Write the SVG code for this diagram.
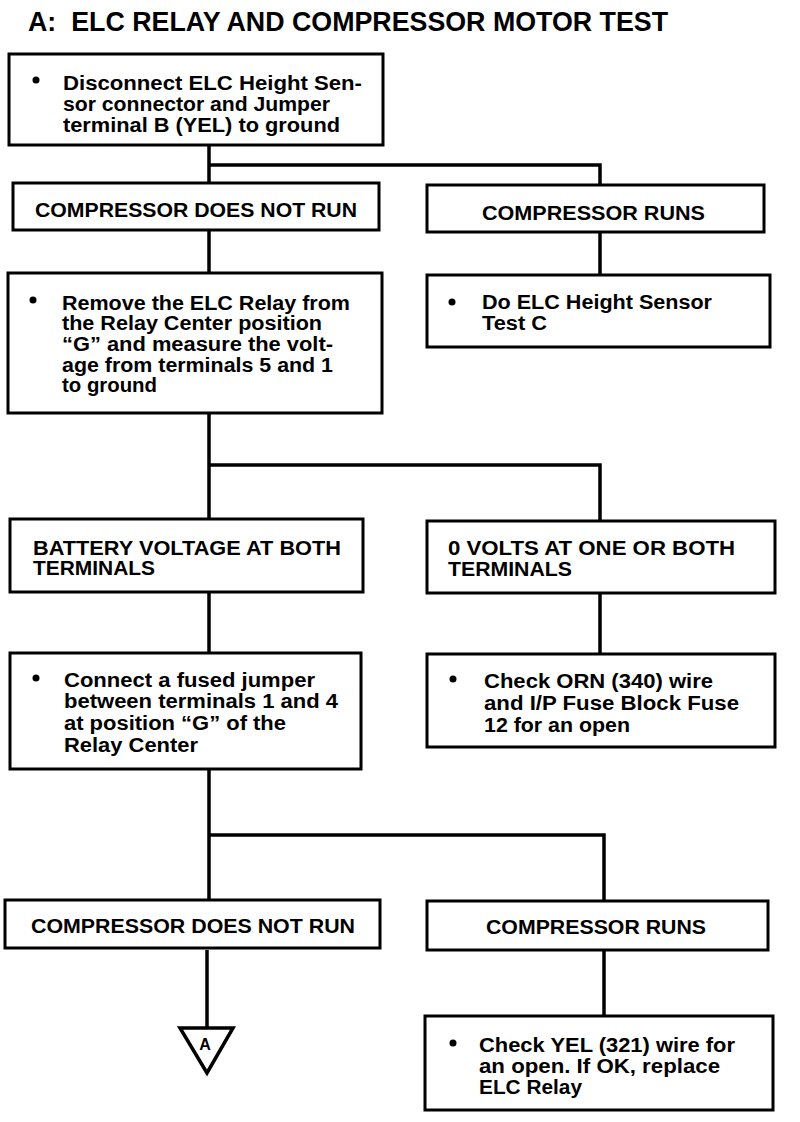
<svg xmlns="http://www.w3.org/2000/svg" width="800" height="1122" viewBox="0 0 800 1122">
<style>
rect.box{fill:#fff;stroke:#000;stroke-width:3}
.t{font-family:"Liberation Sans",Arial,sans-serif;font-weight:bold;font-size:20px;fill:#000}
.title{font-family:"Liberation Sans",Arial,sans-serif;font-weight:bold;font-size:27px;fill:#000}
.c{stroke:#000;stroke-width:3.5;fill:none}
.b{fill:#000}
</style>
<rect width="800" height="1122" fill="#fff"/>
<text class="title" x="28" y="31" textLength="640" lengthAdjust="spacingAndGlyphs" xml:space="preserve">A:  ELC RELAY AND COMPRESSOR MOTOR TEST</text>
<g id="connectors">
<path class="c" d="M209 145V183M209 165H600V185"/>
<path class="c" d="M600 232V275"/>
<path class="c" d="M209 230V273"/>
<path class="c" d="M209 413V519M209 465H600V522"/>
<path class="c" d="M209 592V653"/>
<path class="c" d="M600 593V654"/>
<path class="c" d="M209 769V900M209 835H604V900"/>
<path class="c" d="M604 951V1016"/>
<path class="c" d="M207 950V1027"/>
</g>
<g id="n1">
<rect class="box" x="9" y="54" width="374" height="91"/>
<circle class="b" cx="36" cy="80" r="3.5"/>
<text class="t" x="63" y="90" textLength="299" lengthAdjust="spacingAndGlyphs">Disconnect ELC Height Sen-</text>
<text class="t" x="63" y="111" textLength="267" lengthAdjust="spacingAndGlyphs">sor connector and Jumper</text>
<text class="t" x="63" y="132" textLength="277" lengthAdjust="spacingAndGlyphs">terminal B (YEL) to ground</text>
</g>
<g id="n2">
<rect class="box" x="13" y="183" width="366" height="47"/>
<text class="t" x="35" y="217" textLength="322" lengthAdjust="spacingAndGlyphs">COMPRESSOR DOES NOT RUN</text>
</g>
<g id="n3">
<rect class="box" x="427" y="185" width="337" height="47"/>
<text class="t" x="482" y="220" textLength="223" lengthAdjust="spacingAndGlyphs">COMPRESSOR RUNS</text>
</g>
<g id="n4">
<rect class="box" x="427" y="275" width="343" height="72"/>
<circle class="b" cx="452" cy="302" r="3.5"/>
<text class="t" x="482" y="309" textLength="230" lengthAdjust="spacingAndGlyphs">Do ELC Height Sensor</text>
<text class="t" x="482" y="330" textLength="65" lengthAdjust="spacingAndGlyphs">Test C</text>
</g>
<g id="n5">
<rect class="box" x="8" y="273" width="374" height="140"/>
<circle class="b" cx="33" cy="300" r="3.5"/>
<text class="t" x="62" y="310" textLength="288" lengthAdjust="spacingAndGlyphs">Remove the ELC Relay from</text>
<text class="t" x="62" y="330" textLength="260" lengthAdjust="spacingAndGlyphs">the Relay Center position</text>
<text class="t" x="62" y="351" textLength="271" lengthAdjust="spacingAndGlyphs">“G” and measure the volt-</text>
<text class="t" x="62" y="372" textLength="271" lengthAdjust="spacingAndGlyphs">age from terminals 5 and 1</text>
<text class="t" x="62" y="392" textLength="95" lengthAdjust="spacingAndGlyphs">to ground</text>
</g>
<g id="n6">
<rect class="box" x="10" y="519" width="353" height="73"/>
<text class="t" x="33" y="555" textLength="308" lengthAdjust="spacingAndGlyphs">BATTERY VOLTAGE AT BOTH</text>
<text class="t" x="33" y="575" textLength="122" lengthAdjust="spacingAndGlyphs">TERMINALS</text>
</g>
<g id="n7">
<rect class="box" x="427" y="521" width="348" height="72"/>
<text class="t" x="448" y="555" textLength="287" lengthAdjust="spacingAndGlyphs">0 VOLTS AT ONE OR BOTH</text>
<text class="t" x="448" y="576" textLength="124" lengthAdjust="spacingAndGlyphs">TERMINALS</text>
</g>
<g id="n8">
<rect class="box" x="10" y="653" width="351" height="116"/>
<circle class="b" cx="36" cy="678" r="3.5"/>
<text class="t" x="64" y="687" textLength="251" lengthAdjust="spacingAndGlyphs">Connect a fused jumper</text>
<text class="t" x="64" y="708" textLength="274" lengthAdjust="spacingAndGlyphs">between terminals 1 and 4</text>
<text class="t" x="64" y="730" textLength="222" lengthAdjust="spacingAndGlyphs">at position “G” of the</text>
<text class="t" x="64" y="752" textLength="134" lengthAdjust="spacingAndGlyphs">Relay Center</text>
</g>
<g id="n9">
<rect class="box" x="427" y="654" width="348" height="93"/>
<circle class="b" cx="453" cy="679" r="3.5"/>
<text class="t" x="484" y="688" textLength="229" lengthAdjust="spacingAndGlyphs">Check ORN (340) wire</text>
<text class="t" x="484" y="710" textLength="255" lengthAdjust="spacingAndGlyphs">and I/P Fuse Block Fuse</text>
<text class="t" x="484" y="732" textLength="146" lengthAdjust="spacingAndGlyphs">12 for an open</text>
</g>
<g id="n10">
<rect class="box" x="5" y="900" width="375" height="48"/>
<text class="t" x="31" y="933" textLength="324" lengthAdjust="spacingAndGlyphs">COMPRESSOR DOES NOT RUN</text>
</g>
<g id="n11">
<rect class="box" x="427" y="901" width="341" height="49"/>
<text class="t" x="486" y="934" textLength="220" lengthAdjust="spacingAndGlyphs">COMPRESSOR RUNS</text>
</g>
<g id="n12">
<path d="M180 1028H233L207 1073Z" fill="#fff" stroke="#000" stroke-width="3.5" stroke-linejoin="miter"/>
<text class="t" x="205" y="1050" text-anchor="middle" style="font-size:16px">A</text>
</g>
<g id="n13">
<rect class="box" x="425" y="1016" width="348" height="94"/>
<circle class="b" cx="453" cy="1043" r="3.5"/>
<text class="t" x="479" y="1052" textLength="256" lengthAdjust="spacingAndGlyphs">Check YEL (321) wire for</text>
<text class="t" x="479" y="1073" textLength="241" lengthAdjust="spacingAndGlyphs">an open. If OK, replace</text>
<text class="t" x="479" y="1094" textLength="103" lengthAdjust="spacingAndGlyphs">ELC Relay</text>
</g>
</svg>
